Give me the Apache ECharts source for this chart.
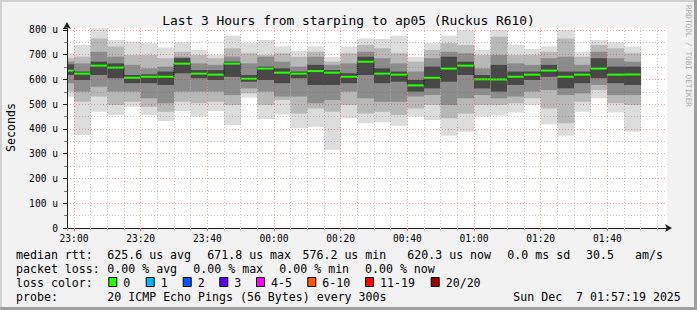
<!DOCTYPE html>
<html><head><meta charset="utf-8">
<script src="https://cdn.jsdelivr.net/npm/echarts@6/dist/echarts.min.js"></script>
<style>html,body{margin:0;padding:0;background:#f2f2f2;} #c{width:697px;height:310px;}</style>
</head><body><div id="c"></div>
<script>
// ---- data (time = minutes after 23:00, each bin covers the 5 minutes ending at binEnd) ----
const binEnd   = [0,5,10,15,20,25,30,35,40,45,50,55,60,65,70,75,80,85,90,95,100,105,110,115,120,125,130,135,140,145,150,155,160,165,170];
const median   = [635.7,623.6,656,648,607,611,611,664,623.6,619.5,664,603,644,627.6,623.6,634,627.6,611,671.8,623.6,619.5,576.2,607,644,656,600.7,600,611,619.5,636,611,619.5,644,619.5,620.3];
// smoke bands (sorted ping spread), outermost to innermost, in microseconds
const smokeMax = [706,739,807,760,753,746,729,750,719,699,777,746,760,733,715,733,692,733,766,764,777,692,746,777,800,719,800,739,723,733,800,712,760,750,733];
const smokeHi2 = [686,692,766,733,699,699,686,712,699,686,726,706,699,706,692,712,672,706,739,726,706,672,719,746,739,699,773,699,699,712,766,692,739,726,706];
const smokeHi3 = [672,665,712,692,659,645,652,692,665,659,692,665,692,672,652,692,659,665,712,686,665,632,686,712,706,645,699,665,659,686,692,659,712,686,672];
const smokeHi4 = [661,632,672,665,618,621,632,686,638,638,672,618,652,645,632,659,638,625,692,645,632,598,652,692,672,618,659,632,632,659,632,632,686,652,652];
const smokeLo4 = [618,598,618,605,585,585,578,625,605,598,611,591,598,585,605,578,578,585,618,585,591,551,564,591,618,564,551,578,598,611,564,585,605,585,578];
const smokeLo3 = [585,551,571,551,551,524,504,551,551,551,537,564,551,531,531,504,517,551,524,510,510,531,537,497,524,537,524,531,551,557,537,544,578,537,537];
const smokeLo2 = [551,510,531,497,510,490,470,510,504,510,497,544,497,517,463,483,470,497,463,470,457,483,497,443,463,497,497,504,524,483,423,510,557,504,497];
const smokeMin = [531,376,470,457,490,457,432,473,450,473,416,527,440,459,403,409,316,443,423,427,413,450,436,373,389,450,454,467,497,419,373,470,524,467,389];
const binWidth = 5;
const xMin = -2.1, xMax = 177.9;          // 22:57:54 .. 01:57:54
const yMax = 808;
const title = 'Last 3 Hours from starping to ap05 (Ruckus R610)';
const lossLabels = ['0','1','2','3','4-5','6-10','11-19','20/20'];
const lossColors = ['#26ff00','#00b8ff','#0059ff','#5e00ff','#ff00ff','#ff5500','#ff0000','#a10000'];
const statsRtt  = ['median rtt:','625.6 us avg','671.8 us max','576.2 us min','620.3 us now','0.0 ms sd','30.5','am/s'];
const statsLoss = ['packet loss:','0.00 % avg','0.00 % max','0.00 % min','0.00 % now'];
const probeLine = ['probe:','20 ICMP Echo Pings (56 Bytes) every 300s','Sun Dec  7 01:57:19 2025'];

// ---- build ----
const FONT = "'DejaVu Sans Mono', monospace";
const smokeData = binEnd.map((e,i)=>[e-binWidth, e, smokeMax[i], smokeHi2[i], smokeHi3[i], smokeHi4[i], smokeLo4[i], smokeLo3[i], smokeLo2[i], smokeMin[i]]);
const medData = binEnd.map((e,i)=>[e-binWidth, e, median[i], i>0?median[i-1]:NaN]);
const shades = ['#dcdcdc','#b8b8b8','#8c8c8c','#484848'];

function clip(r, cs){
  return echarts.graphic.clipRectByRect(r, {x:cs.x, y:cs.y, width:cs.width, height:cs.height});
}
function renderSmoke(params, api){
  const s = api.value(0), e = api.value(1);
  const children = [];
  for (let k=0;k<4;k++){
    const p1 = api.coord([s, api.value(2+k)]);
    const p2 = api.coord([e, api.value(9-k)]);
    const r = clip({x:p1[0], y:p1[1], width:p2[0]-p1[0]+0.4, height:p2[1]-p1[1]}, params.coordSys);
    if (r) children.push({type:'rect', shape:r, style:{fill:shades[k]}});
  }
  return {type:'group', children};
}
function renderMedian(params, api){
  const s = Math.max(api.value(0), xMin), e = api.value(1), m = api.value(2), pm = api.value(3);
  const a = api.coord([s, m]), b = api.coord([e, m]);
  const children = [];
  if (!isNaN(pm)) {
    const c = api.coord([s, pm]);
    children.push({type:'line', shape:{x1:a[0], y1:c[1], x2:a[0], y2:a[1]}, style:{stroke:'#000', lineWidth:1, lineDash:[1,1]}});
  }
  children.push({type:'line', shape:{x1:a[0], y1:a[1], x2:b[0], y2:b[1]}, style:{stroke:lossColors[0], lineWidth:2}});
  return {type:'group', children};
}
function fmtTime(v){
  const m = Math.round(v);
  const h = ((23 + Math.floor(m/60)) % 24 + 24) % 24;
  const mm = ((m % 60) + 60) % 60;
  return String(h).padStart(2,'0') + ':' + String(mm).padStart(2,'0');
}

const graphics = [];
// frame
graphics.push({type:'rect', shape:{x:0,y:0,width:697,height:2}, style:{fill:'#d0d0d0'}, silent:true});
graphics.push({type:'rect', shape:{x:0,y:0,width:2,height:310}, style:{fill:'#d0d0d0'}, silent:true});
graphics.push({type:'rect', shape:{x:0,y:307,width:697,height:3}, style:{fill:'#9e9e9e'}, silent:true});
graphics.push({type:'rect', shape:{x:694,y:0,width:3,height:310}, style:{fill:'#9e9e9e'}, silent:true});
function txt(s, x, y, extra){
  graphics.push(Object.assign({type:'text', x, y, style:{text:s, font:'11.6px ' + FONT, fill:'#000', verticalAlign:'middle'}, silent:true}, extra||{}));
}
const rttX = [16,107.3,207.3,302.5,407.3,507.3,586,635];
statsRtt.forEach((s,i)=>txt(s, rttX[i], 254.5));
const lossX = [16,107.3,193.3,279.3,365];
statsLoss.forEach((s,i)=>txt(s, lossX[i], 268.5));
txt('loss color:', 16, 282.5);
const boxX = [108.3,145.7,182.7,219.3,256,307.3,365,430.7];
lossLabels.forEach((s,i)=>{
  graphics.push({type:'rect', shape:{x:boxX[i]+0.5, y:277.5, width:8, height:9}, style:{fill:lossColors[i], stroke:'#000', lineWidth:1}, silent:true});
  txt(s, boxX[i]+15, 282.5);
});
const probeX = [16,107.3,513.3];
probeLine.forEach((s,i)=>txt(s, probeX[i], 296.5));
// vertical labels
graphics.push({type:'text', x:11, y:127.5, rotation:Math.PI/2, style:{text:'Seconds', font:'11.6px ' + FONT, fill:'#000', align:'center', verticalAlign:'middle'}, silent:true});
graphics.push({type:'text', x:688, y:56, rotation:-Math.PI/2, style:{text:'RRDTOOL / TOBI OETIKER', font:'7.7px ' + FONT, fill:'#aaaaaa', align:'center', verticalAlign:'middle'}, silent:true});

const chart = echarts.init(document.getElementById('c'), null, {renderer:'svg'});
chart.setOption({
  backgroundColor:'#f2f2f2',
  animation:false,
  title:{text:title, left:'center', top:9, textStyle:{fontFamily:FONT, fontSize:12.9, fontWeight:'normal', color:'#000'}},
  grid:{left:67, top:28, right:30, bottom:82, containLabel:false, outerBoundsMode:'none', show:true, backgroundColor:'#ffffff', borderWidth:0},
  xAxis:{
    type:'value', min:xMin, max:xMax, minInterval:20, maxInterval:20, z:5,
    axisLine:{show:true, onZero:false, lineStyle:{color:'#202020', width:1}, symbol:['none','arrow'], symbolSize:[6,7], symbolOffset:[0,5]},
    axisTick:{show:true, length:3, lineStyle:{color:'#e08080'}},
    minorTick:{show:true, splitNumber:4, length:3, lineStyle:{color:'#c0c0c0'}},
    splitLine:{show:true, showMinLine:false, showMaxLine:false, lineStyle:{color:'rgba(255,0,0,0.35)', type:[1,2], width:1}},
    minorSplitLine:{show:true, lineStyle:{color:'rgba(100,100,100,0.35)', type:[1,2], width:1}},
    axisLabel:{show:true, margin:5, showMinLabel:false, showMaxLabel:false, formatter:fmtTime, fontFamily:FONT, fontSize:9.6, color:'#000'}
  },
  yAxis:{
    type:'value', min:0, max:yMax, minInterval:100, maxInterval:100, z:5,
    axisLine:{show:true, onZero:false, lineStyle:{color:'#202020', width:1}, symbol:['none','arrow'], symbolSize:[6,7], symbolOffset:[0,6]},
    axisTick:{show:true, length:4, lineStyle:{color:'#202020'}},
    minorTick:{show:true, splitNumber:2, length:3, lineStyle:{color:'#808080'}},
    splitLine:{show:true, showMinLine:false, showMaxLine:false, lineStyle:{color:'rgba(255,0,0,0.35)', type:[1,2], width:1}},
    minorSplitLine:{show:true, lineStyle:{color:'rgba(100,100,100,0.35)', type:[1,2], width:1}},
    axisLabel:{show:true, margin:9, showMaxLabel:false, formatter:v=> v===0 ? '0' : v + ' u', fontFamily:FONT, fontSize:9.6, color:'#000'}
  },
  graphic:graphics,
  series:[
    {type:'custom', name:'smoke', renderItem:renderSmoke, data:smokeData, encode:{x:[0,1], y:[2,9]}, z:2, silent:true},
    {type:'custom', name:'median', renderItem:renderMedian, data:medData, encode:{x:[0,1], y:[2]}, z:3, silent:true}
  ]
});
</script></body></html>
